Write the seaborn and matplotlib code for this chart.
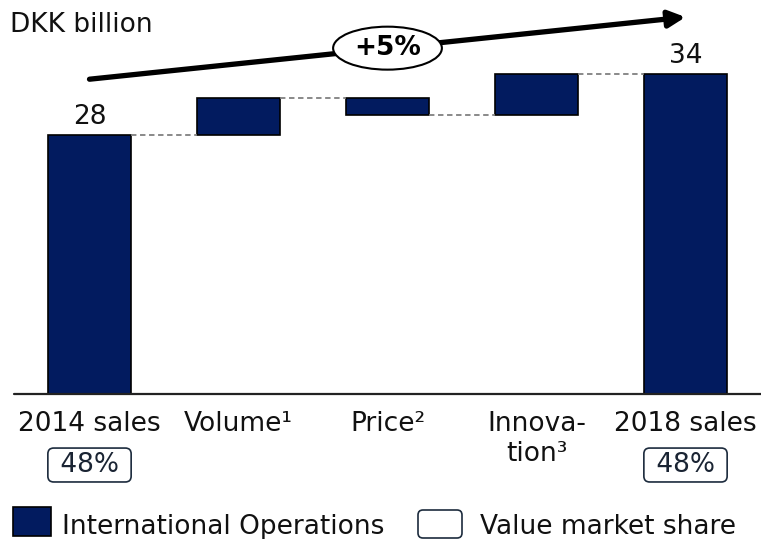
import matplotlib
matplotlib.use("Agg")
import matplotlib.pyplot as plt
from matplotlib.patches import Ellipse, FancyBboxPatch, Rectangle
from matplotlib.transforms import IdentityTransform
import numpy as np
import seaborn as sns

# Data
categories = ["2014 sales", "Volume", "Price", "Innovation", "2018 sales"]
tick_labels = ["2014 sales", "Volume¹", "Price²", "Innova-\ntion³", "2018 sales"]
start_value = 27.7
changes = [4.0, -1.85, 4.4]
end_value = 34.25
value_labels = ["28", "", "", "", "34"]
share_labels = ["48%", "", "", "", "48%"]
growth_label = "+5%"
unit_label = "DKK billion"
legend_labels = ["International Operations", "Value market share"]

navy = "#021B5F"
box_edge = "#1C2B3D"

# waterfall geometry from the data
levels = start_value + np.cumsum(changes)
prev = np.concatenate([[start_value], levels[:-1]])
bottoms = [0.0] + list(np.minimum(prev, levels)) + [0.0]
heights = [start_value] + list(np.abs(changes)) + [end_value]
running = [start_value] + list(levels)

sns.set_style("white")
plt.rcParams["font.family"] = ["DejaVu Sans"]
plt.rcParams["text.color"] = "#111111"

fig = plt.figure(figsize=(7.61, 5.39), dpi=100)
ax = fig.add_axes([0, 0, 1, 1])

sns.barplot(
    x=categories,
    y=heights,
    bottom=bottoms,
    width=0.557,
    color=navy,
    saturation=1,
    edgecolor="black",
    linewidth=1.2,
    errorbar=None,
    ax=ax,
)

ax.set_xlim(-0.6007, 4.5067)
ax.set_ylim(-15.52, 42.18)
ax.set_axis_off()

# baseline
ax.axhline(0, xmin=14 / 761, xmax=1, color="#222222", lw=1.6)

# connectors
w = 0.557
for i, lvl in enumerate(running):
    ax.hlines(lvl, i + w / 2, i + 1 - w / 2, colors="#808080",
              linestyles=(0, (3, 2)), lw=1.3)

# totals on top
tops = [b + h for b, h in zip(bottoms, heights)]
for i, lab in enumerate(value_labels):
    if lab:
        ax.annotate(lab, xy=(i, tops[i]), xytext=(0, 8), textcoords="offset points",
                    ha="center", va="baseline", fontsize=19)

# category labels
for i, lab in enumerate(tick_labels):
    ax.text(i, -1.82, lab, ha="center", va="top", fontsize=19)

# market share boxes
for i, lab in enumerate(share_labels):
    if lab:
        ax.text(i, -7.6, " " + lab + " ", ha="center", va="center", fontsize=19,
                color="#1A2433",
                bbox=dict(boxstyle="round,pad=0.15,rounding_size=0.22",
                          fc="white", ec=box_edge, lw=1.2))

# growth arrow
y0 = tops[0] + 6.0
y1 = tops[-1] + 6.1
ax.annotate("", xy=(4, y1), xytext=(0, y0),
            arrowprops=dict(arrowstyle="-|>,head_length=1.0,head_width=0.5",
                            lw=3.8, color="black", shrinkA=0, shrinkB=0,
                            mutation_scale=10))
mid = (y0 + y1) / 2
ax.add_patch(Ellipse((2, mid), width=0.73, height=4.6, fc="white",
                     ec="black", lw=1.5, zorder=5))
ax.text(2, mid, growth_label, ha="center", va="center", fontsize=19,
        fontweight="bold", color="black", zorder=6)

# unit label
fig.text(10 / 761, 1 - 25 / 539, unit_label, ha="left", va="center",
         fontsize=19)

# legend
fig.add_artist(Rectangle((13, 3), 38, 29, transform=IdentityTransform(),
                         fc=navy, ec="black", lw=1.2))
fig.text(62 / 761, 5 / 539, legend_labels[0], ha="left", va="baseline",
         fontsize=19)
fig.add_artist(FancyBboxPatch((418, 1), 44, 28,
                              boxstyle="round,pad=0,rounding_size=5",
                              transform=IdentityTransform(),
                              fc="white", ec=box_edge, lw=1.2))
fig.text(480 / 761, 5 / 539, legend_labels[1], ha="left", va="baseline",
         fontsize=19)

fig.savefig("out.png", dpi=100)
